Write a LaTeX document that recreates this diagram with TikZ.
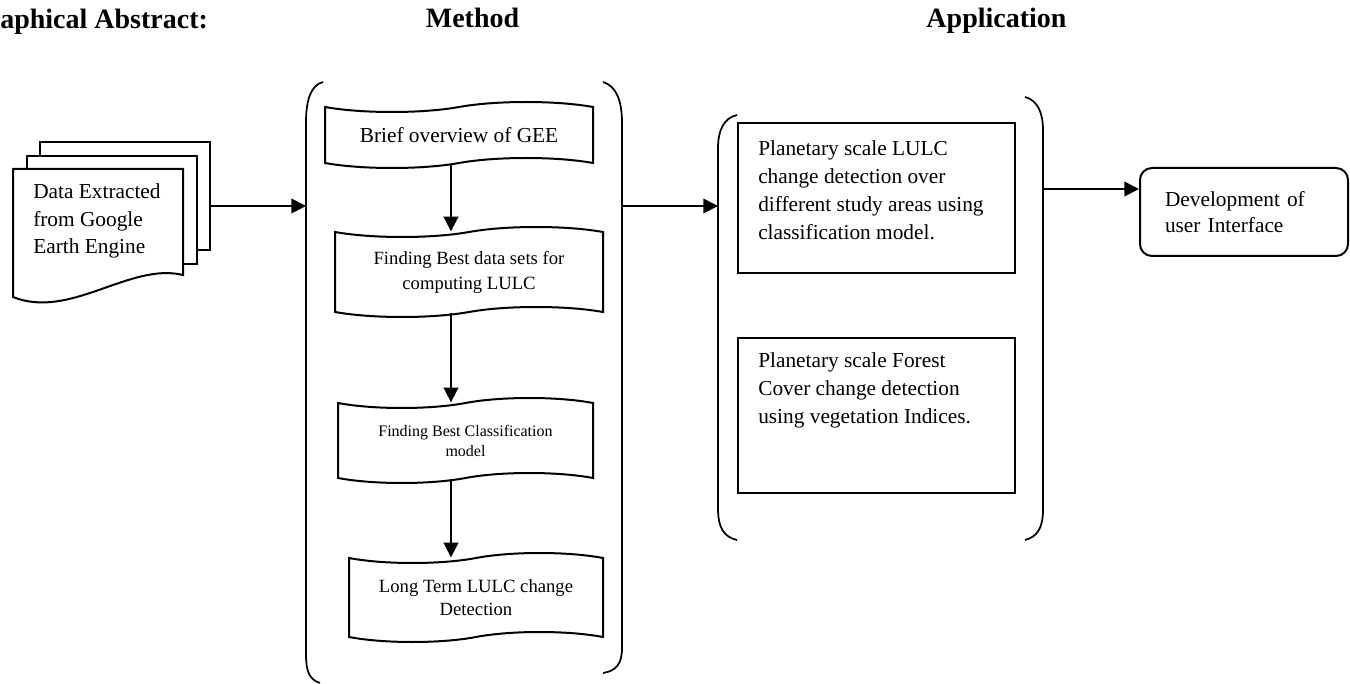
\documentclass[tikz,border=0pt]{standalone}
\usepackage{fontspec}
\setmainfont{Liberation Serif}
\usetikzlibrary{shapes.symbols,arrows.meta}

\begin{document}
\begin{tikzpicture}[x=0.75pt,y=0.75pt,yscale=-1,xscale=1,
  title/.style={inner sep=0pt, anchor=base, font=\fontsize{21}{25}\selectfont\bfseries},
  sheet/.style={draw, line width=1.5pt, fill=white},
  bracket/.style={line width=1.3pt},
  arr/.style={line width=1.3pt, -{Triangle[length=11pt,width=11pt]}},
  tapebox/.style={tape, draw, line width=1.5pt, tape bend height=7.5pt, align=center, inner sep=0pt},
  appbox/.style={draw, line width=1.5pt, minimum width=207.75pt},
  apptext/.style={anchor=west, align=left, inner sep=0pt, font=\fontsize{16}{21}\selectfont}]
\useasboundingbox (0,0) rectangle (1350,684);

% Titles
\node [title, anchor=base west] (ttlabs) at (0,29) {aphical Abstract:};
\node [title] (ttlmethod) at (472.5,28) {Method};
\node [title] (ttlapp) at (996.5,28) {Application};

% Data stack
\draw [sheet] (40,142) rectangle (210,250);
\draw [sheet] (27,156) rectangle (197,264);
\draw [sheet] (13,169) -- (183,169) -- (183,275) .. controls (130,262) and (70,320) .. (13,297) -- cycle;
\node [anchor=west, align=left, inner sep=0pt, font=\fontsize{16}{20.6}\selectfont] (data) at (33,221) {Data Extracted\\from Google\\Earth Engine};
\coordinate (dataout) at (210,206);

% Method bracket
\draw [bracket] (323,82) .. controls (311,85) and (306,100) .. (306,122) -- (306,655) .. controls (306,672) and (310,680) .. (320,683);
\draw [bracket] (603,82) .. controls (616,86) and (622,100) .. (622,123) -- (622,648) .. controls (622,664) and (616,671) .. (603,673);
\coordinate (methodin) at (306,206);
\coordinate (methodout) at (622,206);
\coordinate (spine) at (451,0);

% Method steps
\node [tapebox, minimum width=201pt, minimum height=49.5pt, font=\fontsize{16}{20}\selectfont] (gee) at (459,135) {Brief overview of GEE};
\node [tapebox, minimum width=201pt, minimum height=67.5pt, font=\fontsize{14}{18.75}\selectfont] (lulc) at (469,272) {Finding Best data sets for\\computing LULC};
\node [tapebox, minimum width=191.25pt, minimum height=63.75pt, font=\fontsize{12}{15}\selectfont] (model) at (465.5,440.5) {Finding Best Classification\\model};
\node [tapebox, minimum width=190.5pt, minimum height=66.75pt, font=\fontsize{14}{17.25}\selectfont] (long) at (476,597.5) {Long Term LULC change\\Detection};

\draw [arr] (gee.south -| spine) -- (lulc.north -| spine);
\draw [arr] (lulc.south -| spine) -- (model.north -| spine);
\draw [arr] (model.south -| spine) -- (long.north -| spine);

% Application bracket
\draw [bracket] (737,115) .. controls (724,118) and (718,130) .. (718,148) -- (718,508) .. controls (718,528) and (724,537) .. (737,540);
\draw [bracket] (1025,97) .. controls (1037,100) and (1043,112) .. (1043,130) -- (1043,510) .. controls (1043,528) and (1037,537) .. (1025,540);
\coordinate (appin) at (718,206);
\coordinate (appout) at (1043,189);

% Application boxes
\node [appbox, minimum height=112.5pt] (lulcapp) at (876.5,198) {};
\node [apptext] (lulcapptext) at (758,190) {Planetary scale LULC\\change detection over\\different study areas using\\classification model.};
\node [appbox, minimum height=116.25pt] (forestapp) at (876.5,415.5) {};
\node [apptext] (forestapptext) at (758,390) {Planetary scale Forest\\Cover change detection\\using vegetation Indices.};

% User interface
\node [draw, line width=1.5pt, rounded corners=9pt, minimum width=156pt, minimum height=66pt, text width=118.5pt, inner xsep=18.75pt, align=left, font=\fontsize{16}{19.5}\selectfont] (ui) at (1244,212) {Development of\\user Interface};

% Connectors
\draw [arr] (dataout) -- (methodin);
\draw [arr] (methodout) -- (appin);
\draw [arr] (appout) -- (ui.west |- appout);

\end{tikzpicture}
\end{document}
